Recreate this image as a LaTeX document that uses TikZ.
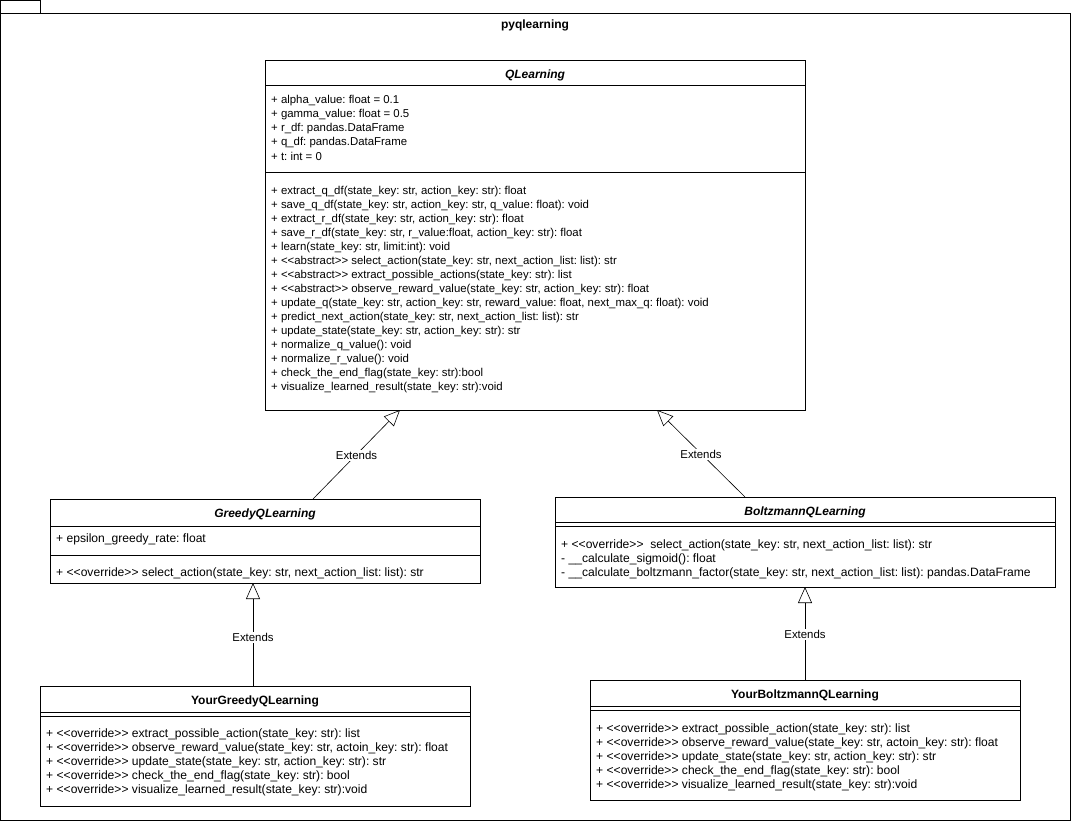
\documentclass[tikz,border=0pt]{standalone}
\usepackage{fontspec}
\setmainfont{Liberation Sans}
\usetikzlibrary{arrows.meta}
\frenchspacing
\tikzset{
  cls/.style={draw=black, line width=1pt, fill=white, rectangle, inner sep=0pt, anchor=north west},
  ttl/.style={font=\fontsize{12}{14}\selectfont\bfseries\itshape, inner sep=0pt},
  ttlup/.style={font=\fontsize{12}{14}\selectfont\bfseries, inner sep=0pt},
  txt/.style={font=\fontsize{11.4}{13}\selectfont, inner sep=0pt, anchor=west},
  txtb/.style={font=\fontsize{12.1}{14}\selectfont, inner sep=0pt, anchor=west},
  sep/.style={line width=1pt},
  ext/.style={line width=0.6pt, -{Triangle[open, length=16pt, width=14pt, line width=0.6pt]}},
  lbl/.style={font=\fontsize{11.4}{13}\selectfont, fill=white, inner sep=1pt}
}
\begin{document}
\begin{tikzpicture}[x=1pt,y=-1pt]
\useasboundingbox (0,0) rectangle (1071,821);
% package frame
\draw[line width=1pt] (0.5,0.5) rectangle (40,14);
\draw[line width=1pt] (0.5,14) rectangle (1070.5,820.5);
\node[ttlup] (pkg) at (535,25.5) {pyqlearning};

% QLearning
\node[cls, minimum width=540pt, minimum height=350pt] (ql) at (265,60) {};
\node[ttl] (qlt) at (535,75) {QLearning};
\draw[sep] (265,86) -- (805,86);
\draw[sep] (265,173) -- (805,173);
\foreach \t [count=\i from 0] in {%
 {+ alpha\_value: float = 0.1},
 {+ gamma\_value: float = 0.5},
 {+ r\_df: pandas.DataFrame},
 {+ q\_df: pandas.DataFrame},
 {+ t: int = 0}}
 \node[txt] (qla\i) at (271,{100.5+14*\i}) {\t};
\foreach \t [count=\i from 0] in {%
 {+ extract\_q\_df(state\_key: str, action\_key: str): float},
 {+ save\_q\_df(state\_key: str, action\_key: str, q\_value: float): void},
 {+ extract\_r\_df(state\_key: str, action\_key: str): float},
 {+ save\_r\_df(state\_key: str, r\_value:float, action\_key: str): float},
 {+ learn(state\_key: str, limit:int): void},
 {+ <{}<abstract>{}> select\_action(state\_key: str, next\_action\_list: list): str},
 {+ <{}<abstract>{}> extract\_possible\_actions(state\_key: str): list},
 {+ <{}<abstract>{}> observe\_reward\_value(state\_key: str, action\_key: str): float},
 {+ update\_q(state\_key: str, action\_key: str, reward\_value: float, next\_max\_q: float): void},
 {+ predict\_next\_action(state\_key: str, next\_action\_list: list): str},
 {+ update\_state(state\_key: str, action\_key: str): str},
 {+ normalize\_q\_value(): void},
 {+ normalize\_r\_value(): void},
 {+ check\_the\_end\_flag(state\_key: str):bool},
 {+ visualize\_learned\_result(state\_key: str):void}}
 \node[txt] (qlm\i) at (271,{191.5+14*\i}) {\t};

% GreedyQLearning
\node[cls, minimum width=430pt, minimum height=84pt] (gq) at (50,499) {};
\node[ttl] (gqt) at (265,514.5) {GreedyQLearning};
\draw[sep] (50,526) -- (480,526);
\node[txtb] (gqa0) at (56,539.5) {+ epsilon\_greedy\_rate: float};
\draw[sep] (50,555) -- (480,555);
\node[txtb] (gqm0) at (56,573.5) {+ <{}<override>{}> select\_action(state\_key: str, next\_action\_list: list): str};

% BoltzmannQLearning
\node[cls, minimum width=500pt, minimum height=90pt] (bq) at (555,497) {};
\node[ttl] (bqt) at (805,512.5) {BoltzmannQLearning};
\draw[sep] (555,522) -- (1055,522);
\draw[sep] (555,526) -- (1055,526);
\foreach \t [count=\i from 0] in {%
 {+ <{}<override>{}>\ \ select\_action(state\_key: str, next\_action\_list: list): str},
 {- \_\_calculate\_sigmoid(): float},
 {- \_\_calculate\_boltzmann\_factor(state\_key: str, next\_action\_list: list): pandas.DataFrame}}
 \node[txtb] (bqm\i) at (561,{545.5+14*\i}) {\t};

% YourGreedyQLearning
\node[cls, minimum width=430pt, minimum height=120pt] (yg) at (40,686) {};
\node[ttlup] (ygt) at (255,701.5) {YourGreedyQLearning};
\draw[sep] (40,712) -- (470,712);
\draw[sep] (40,716) -- (470,716);
\foreach \t [count=\i from 0] in {%
 {+ <{}<override>{}> extract\_possible\_action(state\_key: str): list},
 {+ <{}<override>{}> observe\_reward\_value(state\_key: str, actoin\_key: str): float},
 {+ <{}<override>{}> update\_state(state\_key: str, action\_key: str): str},
 {+ <{}<override>{}> check\_the\_end\_flag(state\_key: str): bool},
 {+ <{}<override>{}> visualize\_learned\_result(state\_key: str):void}}
 \node[txtb] (ygm\i) at (46,{734.5+14*\i}) {\t};

% YourBoltzmannQLearning
\node[cls, minimum width=430pt, minimum height=120pt] (yb) at (590,680) {};
\node[ttlup] (ybt) at (805,695.5) {YourBoltzmannQLearning};
\draw[sep] (590,706) -- (1020,706);
\draw[sep] (590,710) -- (1020,710);
\foreach \t [count=\i from 0] in {%
 {+ <{}<override>{}> extract\_possible\_action(state\_key: str): list},
 {+ <{}<override>{}> observe\_reward\_value(state\_key: str, actoin\_key: str): float},
 {+ <{}<override>{}> update\_state(state\_key: str, action\_key: str): str},
 {+ <{}<override>{}> check\_the\_end\_flag(state\_key: str): bool},
 {+ <{}<override>{}> visualize\_learned\_result(state\_key: str):void}}
 \node[txtb] (ybm\i) at (596,{729.5+14*\i}) {\t};

% connectors
\coordinate (gqtop) at (313,499);
\coordinate (qlb1) at (400,410);
\coordinate (bqtop) at (745,497);
\coordinate (qlb2) at (657,410);
\coordinate (ygtop) at (253,686);
\coordinate (gqb) at (253,583);
\coordinate (ybtop) at (805,680);
\coordinate (bqb) at (805,587);
\draw[ext] (gqtop) -- node[lbl, pos=0.5, yshift=-1pt] {Extends} (qlb1);
\draw[ext] (bqtop) -- node[lbl, pos=0.5, yshift=-1pt] {Extends} (qlb2);
\draw[ext] (ygtop) -- node[lbl, pos=0.48, yshift=-1pt] {Extends} (gqb);
\draw[ext] (ybtop) -- node[lbl, pos=0.5, yshift=-1pt] {Extends} (bqb);
\end{tikzpicture}
\end{document}
